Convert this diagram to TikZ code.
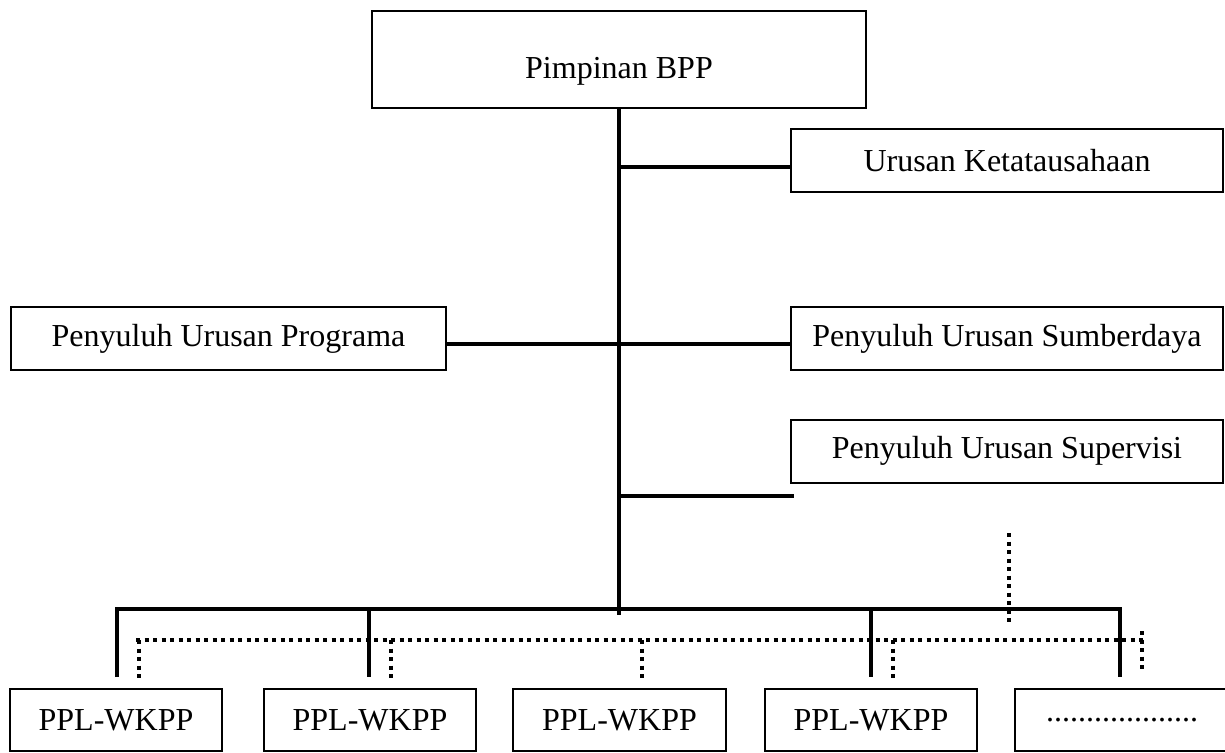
\documentclass[tikz,border=0pt]{standalone}
\usepackage{fontspec}
\setmainfont{Liberation Serif}
\begin{document}
\begin{tikzpicture}[x=1pt,y=-1pt,
  orgbox/.style={draw,line width=2pt,inner sep=0pt,font=\fontsize{32}{38}\selectfont},
  solidline/.style={line width=4pt},
  dotline/.style={line width=3.5pt,dash pattern=on 4pt off 4.5pt}]
\useasboundingbox (0,0) rectangle (1225,752);
% boxes
\node[orgbox,minimum width=494pt,minimum height=97pt,text height=45pt,text depth=7pt] (pim) at (619,59.5) {Pimpinan BPP};
\node[orgbox,minimum width=432pt,minimum height=63pt] (ket) at (1007,160.5) {Urusan Ketatausahaan};
\node[orgbox,minimum width=435pt,minimum height=63pt] (prog) at (228.5,338.5) {Penyuluh Urusan Programa};
\node[orgbox,minimum width=432pt,minimum height=63pt] (sum) at (1007,338.5) {Penyuluh Urusan Sumberdaya};
\node[orgbox,minimum width=432pt,minimum height=63pt] (sup) at (1007,451) {Penyuluh Urusan Supervisi};
\node[orgbox,minimum width=212pt,minimum height=62pt] (b1) at (116,720) {PPL-WKPP};
\node[orgbox,minimum width=212pt,minimum height=62pt] (b2) at (370,720) {PPL-WKPP};
\node[orgbox,minimum width=213pt,minimum height=62pt] (b3) at (619.5,720) {PPL-WKPP};
\node[orgbox,minimum width=212pt,minimum height=62pt] (b4) at (871,720) {PPL-WKPP};
\node[orgbox,minimum width=214pt,minimum height=62pt] (b5) at (1122,720) {...................};
% spine coordinates
\coordinate (spbot) at (619,615);
\coordinate (jket) at (619,167);
\coordinate (jsup) at (619,496);
\coordinate (esup) at (794,496);
\coordinate (bl) at (117,609);
\coordinate (br) at (1120,609);
\coordinate (d1) at (117,677);
\coordinate (d2) at (369,677);
\coordinate (d4) at (871,677);
\coordinate (d5) at (1120,677);
\coordinate (t2) at (369,609);
\coordinate (t4) at (871,609);
% solid connectors
\draw[solidline] (pim.south) -- (spbot);
\draw[solidline] (jket) -- (ket.west |- jket);
\draw[solidline] ([yshift=-5.5pt]prog.east) -- ([yshift=-5.5pt]sum.west);
\draw[solidline] (jsup) -- (esup);
\draw[solidline,line join=miter] (d1) -- (bl) -- (br) -- (d5);
\draw[solidline] (t2) -- (d2);
\draw[solidline] (t4) -- (d4);
% dotted connectors
\coordinate (dl) at (136,640);
\coordinate (dr) at (1146,640);
\coordinate (dt) at (1009,533);
\coordinate (db) at (1009,622);
\draw[dotline] (dl) -- (dr);
\draw[dotline] (dt) -- (db);
\coordinate (q1) at (139,640);
\coordinate (q2) at (391,640);
\coordinate (q3) at (642,640);
\coordinate (q4) at (893,640);
\draw[dotline] (q1) -- (q1 |- 0,682);
\draw[dotline] (q2) -- (q2 |- 0,682);
\draw[dotline] (q3) -- (q3 |- 0,682);
\draw[dotline] (q4) -- (q4 |- 0,682);
\coordinate (q5t) at (1142,631);
\coordinate (q5b) at (1142,673);
\draw[dotline] (q5t) -- (q5b);
\end{tikzpicture}
\end{document}
